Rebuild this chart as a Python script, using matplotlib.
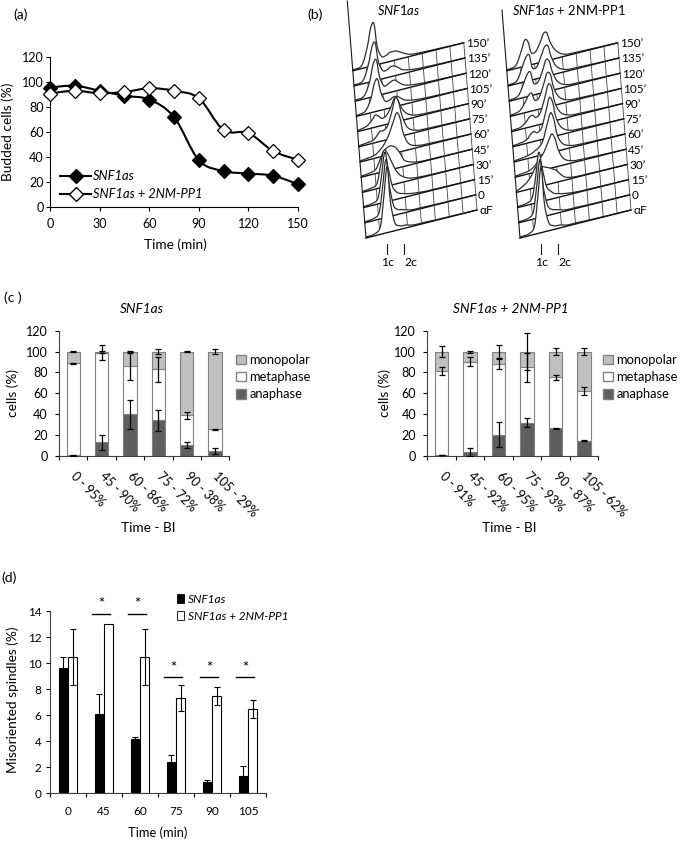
import numpy as np
import matplotlib
matplotlib.use('Agg')
import matplotlib.pyplot as plt
from matplotlib.path import Path
from matplotlib.patches import PathPatch, Patch
from matplotlib.lines import Line2D
from matplotlib.transforms import Affine2D

plt.rcParams['font.family'] = ['Lato', 'DejaVu Sans']
plt.rcParams['mathtext.fontset'] = 'custom'
plt.rcParams['mathtext.it'] = 'Lato:italic'
plt.rcParams['mathtext.rm'] = 'Lato'

# ---------------- data ----------------
# (a) budded cells
time_a = [0, 15, 30, 45, 60, 75, 90, 105, 120, 135, 150]
budded_snf1 = [95.6, 97, 93, 89, 86, 72, 37.5, 28.7, 26.8, 25, 18.2]
budded_2nm = [90.8, 93, 91, 92, 95, 93, 87, 61.6, 59.2, 44.7, 37.8]

# (b) FACS profiles (height of each profile at DNA-content bins)
row_labels = ["\u03b1F", "0", "15\u2019", "30\u2019", "45\u2019", "60\u2019", "75\u2019",
              "90\u2019", "105\u2019", "120\u2019", "135\u2019", "150\u2019"]
dna_bins = [0.00, 0.08, 0.13, 0.16, 0.19, 0.22, 0.26, 0.30, 0.33, 0.36, 0.39, 0.44, 0.52, 0.65, 1.00]
facs_snf1 = [
    [1, 2, 8, 36, 66, 30, 8, 4, 3, 3, 2, 1, 1, 0.5, 0],
    [1, 2, 7, 31, 58, 32, 10, 5, 4, 3, 2, 1, 1, 0.5, 0],
    [1, 2, 6, 26, 50, 34, 14, 7, 5, 4, 3, 2, 1, 0.5, 0],
    [1, 2, 5, 20, 36, 34, 24, 14, 9, 6, 4, 2, 1, 0.5, 0],
    [1, 2, 4, 10, 18, 22, 24, 22, 18, 12, 6, 3, 1, 0.5, 0],
    [1, 2, 3, 5, 8, 12, 20, 32, 40, 34, 18, 6, 2, 1, 0],
    [1, 2, 3, 6, 10, 10, 14, 28, 40, 34, 20, 7, 2, 1, 0],
    [1, 3, 8, 12, 10, 7, 9, 16, 24, 22, 14, 6, 2, 1, 0],
    [1, 3, 14, 28, 32, 18, 8, 8, 10, 10, 8, 4, 2, 1, 0],
    [1, 3, 16, 32, 36, 18, 8, 9, 11, 11, 8, 4, 2, 1, 0],
    [1, 3, 18, 34, 38, 18, 8, 8, 10, 10, 8, 4, 2, 1, 0],
    [1, 3, 20, 38, 42, 18, 7, 7, 9, 9, 9, 6, 2, 1, 0],
]
facs_2nm = [
    [1, 2, 8, 36, 66, 28, 8, 4, 3, 3, 2, 1, 1, 0.5, 0],
    [1, 2, 7, 31, 58, 30, 10, 5, 4, 3, 2, 1, 1, 0.5, 0],
    [1, 2, 6, 24, 50, 34, 14, 8, 5, 4, 3, 2, 1, 0.5, 0],
    [1, 6, 12, 18, 22, 20, 18, 16, 14, 12, 8, 3, 1, 0.5, 0],
    [1, 2, 3, 5, 8, 12, 18, 28, 34, 28, 16, 6, 2, 1, 0],
    [1, 2, 3, 4, 6, 8, 14, 30, 40, 32, 16, 6, 2, 1, 0],
    [1, 2, 4, 8, 10, 8, 12, 28, 40, 34, 18, 7, 2, 1, 0],
    [1, 2, 6, 10, 11, 8, 12, 26, 38, 34, 18, 7, 2, 1, 0],
    [1, 3, 10, 16, 18, 10, 12, 24, 34, 32, 18, 7, 2, 1, 0],
    [1, 3, 14, 22, 24, 12, 12, 22, 32, 30, 18, 7, 2, 1, 0],
    [1, 3, 16, 24, 26, 12, 12, 22, 30, 30, 18, 7, 2, 1, 0],
    [1, 3, 16, 26, 24, 12, 12, 20, 28, 28, 18, 8, 2, 1, 0],
]
ploidy_labels = ["1c", "2c"]
ploidy_pos = [0.186, 0.345]

# (c) spindle stages
cats_c_snf1 = ["0 - 95%", "45 - 90%", "60 - 86%", "75 - 72%", "90 - 38%", "105 - 29%"]
cats_c_2nm = ["0 - 91%", "45 - 92%", "60 - 95%", "75 - 93%", "90 - 87%", "105 - 62%"]
ana_snf1 = [0.5, 13, 40, 34, 10.5, 4.5]
meta_snf1 = [88.5, 86, 46, 49, 28.5, 21]
mono_snf1 = [11, 1, 14, 17, 61, 74.5]
ana_err_snf1 = [0.3, 7, 14, 10.5, 3, 3]
meta_err_snf1 = [0.5, 7, 13, 12, 3.5, 0.5]
mono_err_snf1 = [0.3, 1, 0.5, 2, 0.5, 2]
ana_2nm = [1, 4, 20.5, 32, 26.5, 14.5]
meta_2nm = [80.5, 86.5, 67.5, 53, 49, 47.5]
mono_2nm = [18.5, 9.5, 12, 15, 24.5, 38]
ana_err_2nm = [0.3, 4, 12, 4, 0.5, 0.5]
meta_err_2nm = [3.5, 4, 5, 14, 2.5, 4]
mono_err_2nm = [5, 1, 6.5, 18, 3.5, 3.5]

# (d) misoriented spindles
cats_d = ["0", "45", "60", "75", "90", "105"]
mis_snf1 = [9.6, 6.1, 4.15, 2.4, 0.85, 1.3]
mis_snf1_err = [0.85, 1.5, 0.2, 0.55, 0.2, 0.8]
mis_2nm = [10.5, 13.0, 10.5, 7.3, 7.5, 6.5]
mis_2nm_err = [2.15, 0.0, 2.15, 1.0, 0.7, 0.7]
sig_y = [None, 13.8, 13.8, 8.9, 8.9, 8.9]

# ---------------- helpers ----------------
W, H = 685, 842
fig = plt.figure(figsize=(W / 100, H / 100), dpi=100)
fig.patch.set_facecolor('white')


def ax_px(l, t, r, b):
    return fig.add_axes([l / W, 1 - b / H, (r - l) / W, (b - t) / H])


def fx(px):
    return px / W


def fy(py):
    return 1 - py / H


def smooth_path(x, y, close_base=False):
    pts = np.column_stack([np.asarray(x, float), np.asarray(y, float)])
    n = len(pts)
    verts = [pts[0]]
    codes = [Path.MOVETO]
    for i in range(n - 1):
        p0 = pts[max(i - 1, 0)]
        p1 = pts[i]
        p2 = pts[i + 1]
        p3 = pts[min(i + 2, n - 1)]
        c1 = p1 + (p2 - p0) / 6.0
        c2 = p2 - (p3 - p1) / 6.0
        verts += [c1, c2, p2]
        codes += [Path.CURVE4] * 3
    if close_base:
        verts += [[pts[-1, 0], 0], [pts[0, 0], 0], [pts[0, 0], 0]]
        codes += [Path.LINETO, Path.LINETO, Path.CLOSEPOLY]
    return Path(verts, codes)


FS_TICK = 9
FS_LAB = 9.8

# ---------------- (a) ----------------
axa = ax_px(50, 57, 298, 207)
for ys, fc in [(budded_snf1, 'black'), (budded_2nm, 'white')]:
    axa.add_patch(PathPatch(smooth_path(time_a, ys), fill=False, edgecolor='black', lw=1.5, zorder=2,
                            clip_on=False))
    axa.plot(time_a, ys, ls='none', marker='D', ms=7, mfc=fc, mec='black', mew=0.9, zorder=3,
             clip_on=False)
axa.set_xlim(0, 150)
axa.set_ylim(0, 120)
axa.set_xticks(range(0, 151, 30))
axa.set_yticks(range(0, 121, 20))
for s in ['top', 'right']:
    axa.spines[s].set_visible(False)
for s in ['left', 'bottom']:
    axa.spines[s].set_linewidth(0.8)
axa.tick_params(axis='y', direction='out', length=3, width=0.8, pad=1.5, labelsize=FS_TICK)
axa.tick_params(axis='x', direction='out', length=3, width=0.8, pad=5, labelsize=FS_TICK)
fig.text(fx(8), fy(132), "Budded cells (%)", rotation=90, ha='center', va='center', fontsize=FS_LAB)
fig.text(fx(175), fy(245), "Time (min)", ha='center', va='center', fontsize=FS_LAB)
h_a = [Line2D([], [], color='black', lw=1.5, marker='D', ms=7, mfc='black', mec='black'),
       Line2D([], [], color='black', lw=1.5, marker='D', ms=7, mfc='white', mec='black')]
axa.legend(h_a, ["SNF1as", "SNF1as + 2NM-PP1"], loc='upper left',
           bbox_to_anchor=(fx(54), fy(164)), bbox_transform=fig.transFigure, frameon=False,
           prop={'size': 9.3, 'style': 'italic'}, handlelength=2.4, handletextpad=0.15,
           labelspacing=0.45, borderpad=0)

# ---------------- (b) ----------------
axb = ax_px(340, 0, 685, 280)
axb.set_xlim(340, 685)
axb.set_ylim(280, 0)
axb.axis('off')

ROW_DX, ROW_DY, BW, BSLOPE, Y0 = -1.2, 15.2, 111, 28, 238
ncol = 8


def draw_facs(x0, profiles, title, title_x, wall_top):
    nrow = len(profiles)
    zbase = {k: 10 + (nrow - 1 - k) * 3 for k in range(nrow)}
    for k in range(nrow - 1, -1, -1):
        tr = Affine2D.from_values(BW, -BSLOPE, 0, -1, x0 + ROW_DX * k, Y0 - ROW_DY * k) + axb.transData
        z = zbase[k]
        h = profiles[k]
        axb.add_patch(PathPatch(smooth_path(dna_bins, h, close_base=True), facecolor='white',
                                edgecolor='none', transform=tr, zorder=z))
        axb.add_patch(PathPatch(smooth_path(dna_bins, h), fill=False, edgecolor='#2e2e2e',
                                lw=0.9, transform=tr, zorder=z + 1))
        axb.plot([0, 1], [0, 0], color='#111111', lw=1.0, transform=tr, zorder=z + 1)
        xe = x0 + ROW_DX * k + BW + 2
        ye = Y0 - ROW_DY * k - BSLOPE + 1
        axb.text(xe, ye, row_labels[k], fontsize=8.5, ha='left', va='center', zorder=200)
        if k < nrow - 1:
            for c in range(1, ncol + 1):
                xf = c / ncol
                xa = x0 + ROW_DX * k + BW * xf
                ya = Y0 - ROW_DY * k - BSLOPE * xf
                xb = x0 + ROW_DX * (k + 1) + BW * xf
                yb = Y0 - ROW_DY * (k + 1) - BSLOPE * xf
                axb.plot([xa, xb], [ya, yb], color='#444444', lw=0.6, zorder=zbase[k + 1] + 1)
    dy = Y0 - wall_top
    axb.plot([x0, x0 + ROW_DX * dy / ROW_DY], [Y0, wall_top], color='#1a1a1a', lw=0.8, zorder=300)
    for lab, p, off in zip(ploidy_labels, ploidy_pos, [1, 7]):
        xp = x0 + BW * p
        axb.plot([xp, xp], [244, 254], color='#1a1a1a', lw=0.8)
        axb.text(xp + off, 262, lab, fontsize=8.8, ha='center', va='center')
    axb.text(title_x, 10, title, fontsize=9.3, ha='center', va='center')


draw_facs(366, facs_snf1, r"$\mathit{SNF1as}$", 399, 1)
draw_facs(520, facs_2nm, r"$\mathit{SNF1as}$ + 2NM-PP1", 569, 10)

# ---------------- (c) ----------------
C_ANA, C_META, C_MONO, C_EDGE = '#5f5f5f', 'white', '#c0c0c0', '#808080'


def stacked(l, r, ana, meta, mono, ae, me, moe, labels, title, legx, ylabx, tlabx):
    ax = ax_px(l, 330.7, r, 456)
    idx = np.arange(len(ana))
    ana = np.array(ana, float)
    meta = np.array(meta, float)
    mono = np.array(mono, float)
    bw = 0.47
    ax.bar(idx, ana, bw, color=C_ANA, edgecolor=C_EDGE, lw=0.8, zorder=2)
    ax.bar(idx, meta, bw, bottom=ana, color=C_META, edgecolor=C_EDGE, lw=0.8, zorder=2)
    ax.bar(idx, mono, bw, bottom=ana + meta, color=C_MONO, edgecolor=C_EDGE, lw=0.8, zorder=2)
    tops = [ana, ana + meta, ana + meta + mono]
    for t, e in zip(tops, [ae, me, moe]):
        ax.errorbar(idx, t, yerr=e, fmt='none', ecolor='black', elinewidth=0.9, capsize=2.5,
                    capthick=0.9, zorder=3)
    ax.set_xlim(-0.5, len(ana) - 0.5)
    ax.set_ylim(0, 120)
    ax.set_yticks(range(0, 121, 20))
    ax.set_xticks(idx)
    ax.set_xticklabels(labels, rotation=-45, ha='left', va='center', rotation_mode='anchor')
    ax.set_xticks(np.arange(-0.5, len(ana), 1), minor=True)
    ax.tick_params(axis='x', which='major', length=0, pad=13, labelsize=FS_TICK)
    ax.tick_params(axis='x', which='minor', length=3, width=0.8, direction='out')
    ax.tick_params(axis='y', direction='out', length=3, width=0.8, pad=5, labelsize=FS_TICK)
    for s in ['top', 'right']:
        ax.spines[s].set_visible(False)
    for s in ['left', 'bottom']:
        ax.spines[s].set_linewidth(0.8)
        ax.spines[s].set_color('#404040')
    fig.text(fx((l + r) / 2 - 2), fy(309), title, fontsize=FS_LAB, ha='center', va='center', style='italic')
    fig.text(fx(ylabx), fy(393), "cells (%)", rotation=90, ha='center', va='center', fontsize=FS_LAB)
    fig.text(fx(tlabx), fy(528), "Time - BI", ha='center', va='center', fontsize=FS_LAB)
    hs = [Patch(facecolor=C_MONO, edgecolor=C_EDGE), Patch(facecolor=C_META, edgecolor=C_EDGE),
          Patch(facecolor=C_ANA, edgecolor=C_EDGE)]
    fig.legend(hs, ["monopolar", "metaphase", "anaphase"], loc='upper left',
               bbox_to_anchor=(fx(legx), fy(354)), frameon=False, fontsize=FS_TICK + 0.3,
               handlelength=0.75, handleheight=0.75, handletextpad=0.3, labelspacing=0.4,
               borderpad=0, borderaxespad=0)


stacked(59, 229.3, ana_snf1, meta_snf1, mono_snf1, ana_err_snf1, meta_err_snf1, mono_err_snf1,
        cats_c_snf1, "SNF1as", 236, 13, 148)
stacked(427.3, 598.3, ana_2nm, meta_2nm, mono_2nm, ana_err_2nm, meta_err_2nm, mono_err_2nm,
        cats_c_2nm, "SNF1as + 2NM-PP1", 603, 385, 509)

# ---------------- (d) ----------------
axd = ax_px(50, 611, 266, 793.3)
idx = np.arange(len(cats_d))
bw = 0.26
mis_snf1_a = np.array(mis_snf1)
mis_2nm_a = np.array(mis_2nm)
axd.bar(idx - bw / 2, mis_snf1_a, bw, color='black', edgecolor='black', lw=0.8, zorder=2)
axd.bar(idx + bw / 2, mis_2nm_a, bw, color='white', edgecolor='black', lw=0.8, zorder=2)
e1 = np.array(mis_snf1_err)
e2 = np.array(mis_2nm_err)
m1 = e1 > 0
m2 = e2 > 0
axd.errorbar((idx - bw / 2)[m1], mis_snf1_a[m1], yerr=e1[m1], fmt='none', ecolor='black',
             elinewidth=0.8, capsize=2.5, capthick=0.8, zorder=3)
axd.errorbar((idx + bw / 2)[m2], mis_2nm_a[m2], yerr=e2[m2], fmt='none', ecolor='black',
             elinewidth=0.8, capsize=2.5, capthick=0.8, zorder=3)
for i, sy in enumerate(sig_y):
    if sy is None:
        continue
    axd.plot([i - 0.33, i + 0.16], [sy, sy], color='black', lw=1.0)
    axd.text(i - 0.09, sy + 0.2, "*", ha='center', va='bottom', fontsize=10.5)
axd.set_xlim(-0.5, len(cats_d) - 0.5)
axd.set_ylim(0, 14)
axd.set_yticks(range(0, 15, 2))
axd.set_xticks(idx)
axd.set_xticklabels(cats_d)
axd.set_xticks(np.arange(-0.5, len(cats_d), 1), minor=True)
axd.tick_params(axis='x', which='major', length=0, pad=9, labelsize=8.5)
axd.tick_params(axis='x', which='minor', length=3, width=0.8, direction='out')
axd.tick_params(axis='y', direction='out', length=3, width=0.8, pad=3, labelsize=8.5)
for s in ['top', 'right']:
    axd.spines[s].set_visible(False)
for s in ['left', 'bottom']:
    axd.spines[s].set_linewidth(0.8)
    axd.spines[s].set_color('#404040')
fig.text(fx(13), fy(700), "Misoriented spindles (%)", rotation=90, ha='center', va='center', fontsize=FS_LAB)
fig.text(fx(158), fy(833), "Time (min)", ha='center', va='center', fontsize=9.3)
hd = [Patch(facecolor='black', edgecolor='black', lw=0.6), Patch(facecolor='white', edgecolor='black', lw=0.6)]
fig.legend(hd, ["SNF1as", "SNF1as + 2NM-PP1"], loc='upper left', bbox_to_anchor=(fx(177), fy(594)),
           frameon=False, prop={'size': 8.6, 'style': 'italic'}, handlelength=0.6, handleheight=0.8,
           handletextpad=0.3, labelspacing=0.5, borderpad=0, borderaxespad=0)

# ---------------- panel letters ----------------
for txt, x, y in [("(a)", 13, 15), ("(b)", 307, 15), ("(c )", 4, 298), ("(d)", 1, 578)]:
    fig.text(fx(x), fy(y), txt, ha='left', va='center', fontsize=10)

fig.savefig('out.png', dpi=100, facecolor='white')
